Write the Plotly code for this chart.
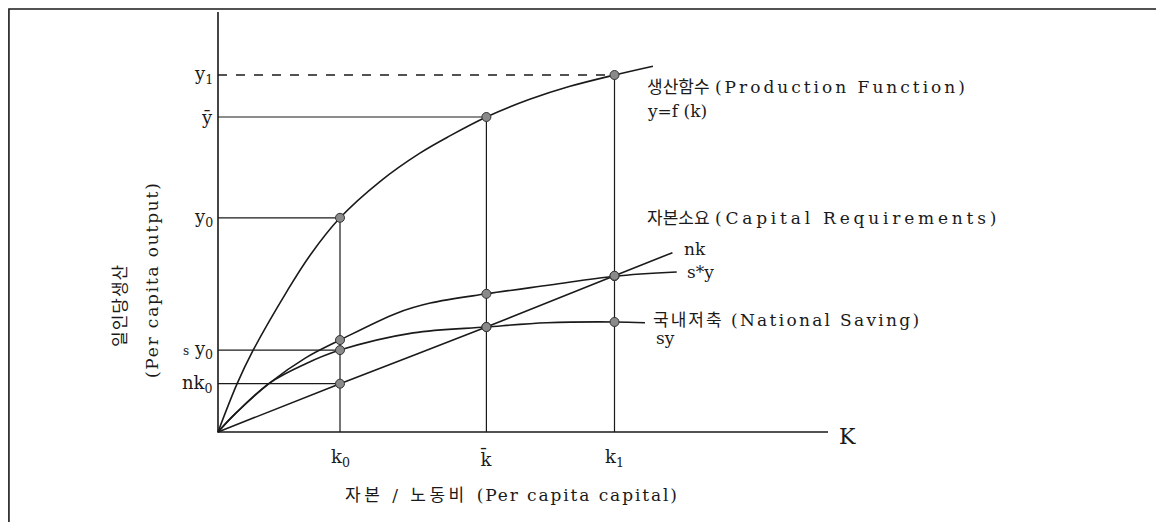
import plotly.graph_objects as go

# Key points on the axes (per capita capital k, per capita output y)
k0, k_bar, k1 = 2.0, 4.4, 6.5
y0, y_bar, y1 = 5.1, 7.5, 8.5
sy0, nk0 = 1.95, 1.15
k_axis_end, y_axis_end = 10.0, 10.0

# Production function y = f(k)
prod_k = [0, 0.31, 0.57, 1.13, 1.51, 2.0, 2.66, 3.31, 3.80, 4.4, 5.11, 5.77, 6.5, 7.13]
prod_y = [0, 1.14, 1.93, 3.35, 4.21, 5.1, 5.97, 6.64, 7.05, 7.5, 7.92, 8.23, 8.5, 8.71]

# s*y curve
star_k = [0, 0.28, 0.85, 1.43, 2.0, 2.93, 3.48, 4.4, 5.44, 6.5, 7.52]
star_y = [0, 0.43, 1.17, 1.76, 2.19, 2.83, 3.07, 3.29, 3.50, 3.71, 3.81]

# National saving sy
sy_k = [0, 0.28, 0.85, 1.43, 2.0, 3.2, 4.4, 5.39, 6.5, 7.0]
sy_y = [0, 0.43, 1.17, 1.62, 1.95, 2.36, 2.5, 2.6, 2.62, 2.6]

# Capital requirements nk
nk_k = [0, 2.0, 4.4, 6.5, 7.45]
nk_y = [0, 1.15, 2.5, 3.72, 4.27]

INK = "#1a1a1a"
FONT = "DejaVu Serif, Noto Sans CJK KR, serif"


def wide(text, px=1.6):
    return f"<span style='letter-spacing:{px}px'>{text}</span>"


fig = go.Figure()

# Axes
fig.add_trace(go.Scatter(x=[0, 0, k_axis_end], y=[y_axis_end, 0, 0], mode="lines",
                         line=dict(color=INK, width=1.6), hoverinfo="skip"))

# Guide lines to the axes
fig.add_trace(go.Scatter(x=[0, k1], y=[y1, y1], mode="lines",
                         line=dict(color=INK, width=1.4, dash="dash"), hoverinfo="skip"))
for kx, yv in [(k_bar, y_bar), (k0, y0), (k0, sy0), (k0, nk0)]:
    fig.add_trace(go.Scatter(x=[0, kx], y=[yv, yv], mode="lines",
                             line=dict(color=INK, width=1.2), hoverinfo="skip"))
for kx, yv in [(k0, y0), (k_bar, y_bar), (k1, y1)]:
    fig.add_trace(go.Scatter(x=[kx, kx], y=[0, yv], mode="lines",
                             line=dict(color=INK, width=1.2), hoverinfo="skip"))

# Curves
for cx, cy in [(prod_k, prod_y), (star_k, star_y), (sy_k, sy_y), (nk_k, nk_y)]:
    fig.add_trace(go.Scatter(x=cx, y=cy, mode="lines", line_shape="spline",
                             line=dict(color=INK, width=1.6), hoverinfo="skip"))

# Dots where the curves meet k0, k-bar and k1
dot_k, dot_y = [], []
for cx, cy in [(prod_k, prod_y), (star_k, star_y), (sy_k, sy_y), (nk_k, nk_y)]:
    for kx in (k0, k_bar, k1):
        dot_k.append(kx)
        dot_y.append(cy[cx.index(kx)])
fig.add_trace(go.Scatter(x=dot_k, y=dot_y, mode="markers",
                         marker=dict(size=9, color="#8a8a8a", line=dict(color="#333333", width=1)),
                         hoverinfo="skip"))

annotations = []


def label(x, y, text, size=17, xanchor="left", yanchor="middle", **kw):
    annotations.append(dict(x=x, y=y, text=text, showarrow=False, xanchor=xanchor,
                            yanchor=yanchor, font=dict(family=FONT, size=size, color=INK), **kw))


# y-axis tick labels
label(-0.05, y1, "y<sub>1</sub>", size=18, xanchor="right")
label(-0.05, y_bar, "ȳ", size=18, xanchor="right")
label(-0.05, y0, "y<sub>0</sub>", size=18, xanchor="right")
label(-0.05, sy0, "<span style='font-size:12px'>s</span> y<sub>0</sub>", size=18, xanchor="right")
label(-0.05, nk0, "nk<sub>0</sub>", size=18, xanchor="right")

# x-axis tick labels
label(k0, -0.62, "k<sub>0</sub>", size=18, xanchor="center")
label(k_bar, -0.62, "k̄", size=18, xanchor="center")
label(k1, -0.62, "k<sub>1</sub>", size=18, xanchor="center")
label(k_axis_end + 0.15, -0.1, "K", size=22)

# Axis titles
label(2.05, -1.5, wide("자본 / 노동비 ", 3.5) + wide("(Per capita capital)", 1.9), size=17)
label(-1.61, 3.02, wide("일인당생산", 1), size=17, xanchor="center", textangle=-90)
label(-1.08, 3.62, wide("(Per capita output)", 1.8), size=17, xanchor="center", textangle=-90)

# Curve labels
label(7.0, 8.21, "생산함수 " + wide("(Production Function)", 3), size=17)
label(7.0, 7.64, "y=f (k)", size=17)
label(7.0, 5.1, "자본소요 " + wide("(Capital Requirements)", 3.8), size=17)
label(7.6, 4.36, "nk", size=17)
label(7.65, 3.81, "s*y", size=17)
label(7.1, 2.67, wide("국내저축 ", 2) + wide("(National Saving)", 2.3), size=17)
label(7.15, 2.24, "sy", size=17)

fig.update_layout(
    width=1164,
    height=522,
    margin=dict(l=0, r=0, t=0, b=0),
    paper_bgcolor="white",
    plot_bgcolor="white",
    showlegend=False,
    annotations=annotations,
    # page body has an 8px margin, so k=0 sits 210px into the figure
    xaxis=dict(range=[-210 / 61, 954 / 61], visible=False, fixedrange=True),
    yaxis=dict(range=[-98 / 42, 424 / 42], visible=False, fixedrange=True),
    shapes=[dict(type="rect", xref="paper", yref="paper", x0=0.0008, x1=0.9897,
                 y0=-0.05, y1=0.998, line=dict(color=INK, width=1.6))],
)

fig.write_html("out.html")
